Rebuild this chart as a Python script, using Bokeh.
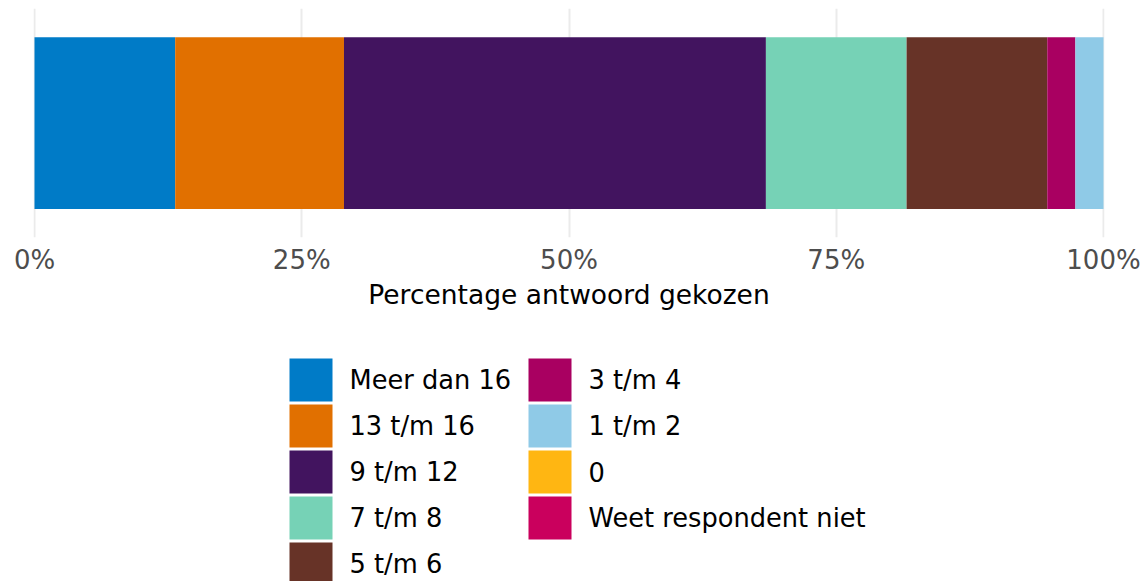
from bokeh.plotting import figure
from bokeh.models import Range1d, FixedTicker, PrintfTickFormatter, ColumnDataSource
from bokeh.layouts import column
from bokeh.embed import file_html
from bokeh.resources import INLINE
from bokeh.core.properties import value

# ---- data ----
categories = ["Meer dan 16", "13 t/m 16", "9 t/m 12", "7 t/m 8", "5 t/m 6",
              "3 t/m 4", "1 t/m 2", "0", "Weet respondent niet"]
percentages = [13.16, 15.79, 39.47, 13.16, 13.16, 2.63, 2.63, 0.0, 0.0]
colors = ["#007BC7", "#E17000", "#42145F", "#76D2B6", "#673327",
          "#A90061", "#8FCAE7", "#FFB612", "#CA005D"]
tick_values = [0, 25, 50, 75, 100]
x_axis_label = "Percentage antwoord gekozen"

FONT = "DejaVu Sans"
W = 1147
H = 581
HA = 338
HB = H - HA
BL, BR = 33, 43

lefts, rights = [], []
acc = 0.0
for v in percentages:
    lefts.append(acc)
    acc += v
    rights.append(acc)

src = ColumnDataSource(dict(cat=categories, left=lefts, right=rights,
                            y=[1] * len(categories), color=colors))

p = figure(width=W, height=HA, x_range=Range1d(-0.094, 100.094), y_range=Range1d(0.4, 1.6),
           output_backend="svg", toolbar_location=None, y_axis_location=None,
           min_border_left=BL, min_border_right=BR, min_border_top=8, min_border_bottom=101)
p.hbar(y="y", left="left", right="right", height=0.9, fill_color="color",
       line_color=None, source=src)

p.xaxis.ticker = FixedTicker(ticks=tick_values)
p.xaxis.formatter = PrintfTickFormatter(format="%d%%")
p.xaxis.axis_line_color = None
p.xaxis.major_tick_line_color = None
p.xaxis.minor_tick_line_color = None
p.xaxis.major_label_text_font = FONT
p.xaxis.major_label_text_font_size = "26px"
p.xaxis.major_label_text_color = "#4D4D4D"
p.xaxis.major_label_standoff = 1
p.xaxis.axis_label = x_axis_label
p.xaxis.axis_label_text_font = FONT
p.xaxis.axis_label_text_font_size = "26.5px"
p.xaxis.axis_label_text_font_style = "normal"
p.xaxis.axis_label_text_color = "#000000"
p.xaxis.axis_label_standoff = 1

p.xgrid.ticker = FixedTicker(ticks=tick_values)
p.xgrid.grid_line_color = "#EBEBEB"
p.xgrid.grid_line_width = 2
p.ygrid.grid_line_color = None
p.outline_line_color = None
p.background_fill_color = "white"

# ---- legend (separate panel, pixel-like coordinates) ----
n_rows = 5
sw = 43
pitch = 46
col_pitch = 239
x0 = 289
y0 = 20
lg_left, lg_top, lg_tx, lg_ty = [], [], [], []
for i in range(len(categories)):
    r, c = i % n_rows, i // n_rows
    lg_left.append(x0 + c * col_pitch)
    lg_top.append(y0 + r * pitch)
    lg_tx.append(x0 + c * col_pitch + 60)
    lg_ty.append(y0 + r * pitch + sw / 2)
lsrc = ColumnDataSource(dict(left=lg_left, right=[v + sw for v in lg_left],
                             top=lg_top, bottom=[v + sw for v in lg_top],
                             tx=lg_tx, ty=lg_ty, label=categories, color=colors))

q = figure(width=W, height=HB, x_range=Range1d(BL, W - BR), y_range=Range1d(HB, 0),
           output_backend="svg", toolbar_location=None,
           min_border_left=BL, min_border_right=BR, min_border_top=0, min_border_bottom=0,
           x_axis_location=None, y_axis_location=None)
q.quad(left="left", right="right", top="top", bottom="bottom", fill_color="color",
       line_color=None, source=lsrc)
q.text(x="tx", y="ty", text="label", text_font=value(FONT), text_font_size=value("25.7px"),
       text_baseline="middle", text_align="left", text_color="#000000", source=lsrc)
q.grid.visible = False
q.outline_line_color = None

layout = column(p, q, spacing=0)
open("out.html", "w").write(file_html(layout, INLINE))
